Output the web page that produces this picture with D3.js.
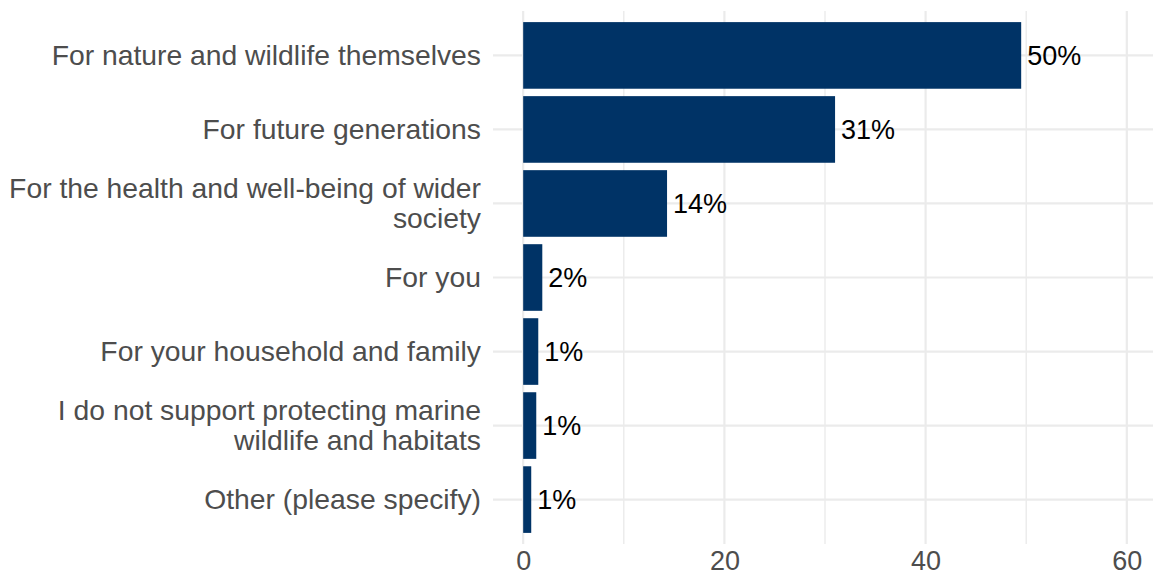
<!DOCTYPE html>
<html>
<head>
<meta charset="utf-8">
<script src="https://cdn.jsdelivr.net/npm/d3@7"></script>
<style>
  html, body { margin: 0; padding: 0; background: #ffffff; }
  svg { display: block; }
  text { font-family: "Liberation Sans", Arial, sans-serif; }
</style>
</head>
<body>
<svg id="chart" width="1153" height="578"></svg>
<script>
// Reasons for supporting the protection of marine wildlife and habitats (% of respondents)
const categories = [
  "For nature and wildlife themselves",
  "For future generations",
  "For the health and well-being of wider\nsociety",
  "For you",
  "For your household and family",
  "I do not support protecting marine\nwildlife and habitats",
  "Other (please specify)"
];
const values = [49.5, 31.0, 14.3, 1.9, 1.5, 1.3, 0.8];
const valueLabels = ["50%", "31%", "14%", "2%", "1%", "1%", "1%"];
const xTicks = [0, 20, 40, 60];
const xMinorTicks = [10, 30, 50];

const data = categories.map((c, i) => ({ category: c, value: values[i], label: valueLabels[i] }));

const svg = d3.select("#chart");
const width = 1153, height = 578;
const margin = { top: 11, left: 493, bottom: 34 };
const panelW = 664;   // panel runs slightly past the right edge of the page
const innerH = height - margin.top - margin.bottom;

const g = svg.append("g").attr("transform", `translate(${margin.left},${margin.top})`);

// Continuous axis with 5% expansion on each side of 0..60
const x = d3.scaleLinear().domain([-3, 63]).range([0, panelW]);

// Discrete axis: 0.6-unit expansion at both ends, bars 90% of a band
const y = d3.scalePoint().domain(categories).range([0, innerH]).padding(0.6);
const step = y.step();
const barH = step * 0.9;

const gridColor = "#ebebeb";

// Minor vertical grid lines
g.selectAll("line.minor").data(xMinorTicks).join("line")
  .attr("class", "minor")
  .attr("x1", d => x(d)).attr("x2", d => x(d))
  .attr("y1", 0).attr("y2", innerH)
  .attr("stroke", gridColor).attr("stroke-width", 1.4);

// Major vertical grid lines
g.selectAll("line.majorx").data(xTicks).join("line")
  .attr("class", "majorx")
  .attr("x1", d => x(d)).attr("x2", d => x(d))
  .attr("y1", 0).attr("y2", innerH)
  .attr("stroke", gridColor).attr("stroke-width", 2.2);

// Horizontal grid lines at each category
g.selectAll("line.majory").data(categories).join("line")
  .attr("class", "majory")
  .attr("x1", 0).attr("x2", panelW)
  .attr("y1", d => y(d)).attr("y2", d => y(d))
  .attr("stroke", gridColor).attr("stroke-width", 2.2);

// Bars
g.selectAll("rect.bar").data(data).join("rect")
  .attr("class", "bar")
  .attr("x", x(0))
  .attr("y", d => y(d.category) - barH / 2)
  .attr("width", d => x(d.value) - x(0))
  .attr("height", barH)
  .attr("fill", "#003366");

// Value labels
g.selectAll("text.value").data(data).join("text")
  .attr("class", "value")
  .attr("x", d => x(d.value) + 6)
  .attr("y", d => y(d.category))
  .attr("dy", "0.35em")
  .attr("font-size", 27)
  .attr("fill", "#000000")
  .text(d => d.label);

// Category axis labels (right aligned, multi-line)
const yAxis = g.append("g").attr("class", "y-axis");
yAxis.selectAll("text").data(categories).join("text")
  .attr("x", -12)
  .attr("y", d => y(d))
  .attr("text-anchor", "end")
  .attr("font-size", 28.3)
  .attr("fill", "#4d4d4d")
  .each(function (d) {
    const lines = d.split("\n");
    const lh = 30;
    const t = d3.select(this);
    lines.forEach((ln, i) => {
      t.append("tspan")
        .attr("x", -12)
        .attr("dy", i === 0 ? ((-(lines.length - 1) * lh / 2) + 9.8) : lh)
        .text(ln);
    });
  });

// X axis tick labels
const xAxis = d3.axisBottom(x).tickValues(xTicks).tickSize(0).tickPadding(7);
const xg = g.append("g").attr("transform", `translate(0,${innerH})`).call(xAxis);
xg.select(".domain").remove();
xg.selectAll("text")
  .attr("font-size", 27)
  .attr("font-family", "'Liberation Sans', Arial, sans-serif")
  .attr("fill", "#4d4d4d");
</script>
</body>
</html>
